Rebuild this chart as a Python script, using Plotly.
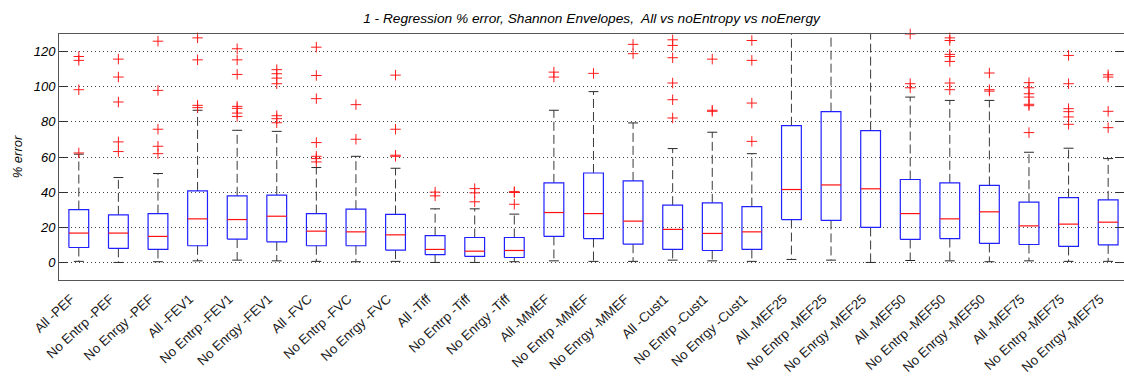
import plotly.graph_objects as go

# Category labels (one box per feature set / target)
labels = [
    "All -PEF", "No Entrp -PEF", "No Enrgy -PEF",
    "All -FEV1", "No Entrp -FEV1", "No Enrgy -FEV1",
    "All -FVC", "No Entrp -FVC", "No Enrgy -FVC",
    "All -Tiff", "No Entrp -Tiff", "No Enrgy -Tiff",
    "All -MMEF", "No Entrp -MMEF", "No Enrgy -MMEF",
    "All -Cust1", "No Entrp -Cust1", "No Enrgy -Cust1",
    "All -MEF25", "No Entrp -MEF25", "No Enrgy -MEF25",
    "All -MEF50", "No Entrp -MEF50", "No Enrgy -MEF50",
    "All -MEF75", "No Entrp -MEF75", "No Enrgy -MEF75",
]

# Box statistics (% error)
lower_whisker = [0.6, 0.0, 0.4, 0.9, 1.3, 0.9, 0.6, 0.4, 0.6,
                 0.0, 0.0, 0.4, 0.9, 0.6, 0.6, 1.3, 0.9, 0.6,
                 1.7, 1.3, 0.0, 1.1, 0.9, 0.4, 0.9, 0.6, 0.6]
q1 = [8.5, 8.0, 7.4, 9.5, 13.3, 11.7, 9.5, 9.5, 7.0,
      4.4, 3.4, 2.8, 14.8, 13.6, 10.4, 7.4, 6.8, 7.4,
      24.4, 23.9, 19.9, 13.1, 13.6, 10.8, 10.2, 9.1, 10.0]
median = [16.7, 16.7, 14.8, 24.8, 24.4, 26.3, 17.8, 17.4, 15.7,
          7.4, 6.4, 6.8, 28.4, 27.8, 23.5, 18.8, 16.5, 17.4,
          41.5, 44.1, 41.9, 27.8, 24.8, 28.8, 20.8, 21.8, 22.9]
q3 = [30.1, 27.1, 27.8, 40.7, 37.9, 38.3, 27.8, 30.3, 27.3,
      15.2, 14.2, 14.2, 45.3, 50.9, 46.4, 32.6, 33.9, 31.8,
      77.8, 85.8, 75.0, 47.2, 45.3, 43.8, 34.3, 36.9, 35.6]
upper_whisker = [61.6, 48.3, 50.6, 86.6, 75.2, 74.6, 54.0, 60.4, 53.6,
                 30.5, 30.5, 27.5, 86.6, 97.2, 79.4, 64.8, 74.1, 61.9,
                 160.0, 165.0, 158.0, 94.1, 92.2, 92.2, 62.7, 65.0, 59.1]

# Outliers per box
outliers = [
    [117.2, 115.0, 98.3, 62.3],
    [115.7, 105.5, 91.3, 68.6, 63.1],
    [125.9, 97.9, 75.8, 66.1, 61.9],
    [127.8, 115.3, 89.4, 88.1],
    [121.6, 115.3, 107.0, 88.8, 87.7, 85.0, 83.1],
    [109.7, 107.4, 104.9, 101.7, 83.5, 81.8, 79.5],
    [122.5, 106.4, 93.2, 68.2, 60.4, 59.1, 57.2],
    [89.8, 70.1],
    [106.6, 75.8, 61.0, 60.4],
    [40.0, 37.9],
    [42.0, 39.6, 34.5],
    [40.3, 39.8, 33.1],
    [108.3, 105.5],
    [107.6],
    [124.1, 118.8],
    [126.7, 123.5, 116.5, 102.1, 92.6, 82.2],
    [115.7, 86.6, 86.0],
    [126.3, 115.0, 90.7, 68.9],
    [],
    [],
    [],
    [130.0, 101.7, 99.4],
    [127.8, 126.3, 118.4, 117.2, 114.4, 102.1, 98.3],
    [107.8, 98.3, 97.5],
    [102.3, 99.4, 96.0, 94.1, 90.0, 89.2, 73.9],
    [117.8, 101.7, 87.5, 85.8, 82.8, 78.6],
    [106.8, 105.5, 86.0, 76.7],
]

y_ticks = [0, 20, 40, 60, 80, 100, 120]

BOX_HALF = 0.25
CAP_HALF = 0.125
FONT = "Liberation Sans, Arial, sans-serif"

positions = list(range(1, len(labels) + 1))

box_x, box_y = [], []
med_x, med_y = [], []
wh_x, wh_y = [], []
cap_x, cap_y = [], []
out_x, out_y = [], []

for i, p in enumerate(positions):
    # box outline
    box_x += [p - BOX_HALF, p + BOX_HALF, p + BOX_HALF, p - BOX_HALF, p - BOX_HALF, None]
    box_y += [q1[i], q1[i], q3[i], q3[i], q1[i], None]
    # median
    med_x += [p - BOX_HALF, p + BOX_HALF, None]
    med_y += [median[i], median[i], None]
    # whiskers
    wh_x += [p, p, None, p, p, None]
    wh_y += [q3[i], upper_whisker[i], None, q1[i], lower_whisker[i], None]
    # whisker caps
    cap_x += [p - CAP_HALF, p + CAP_HALF, None, p - CAP_HALF, p + CAP_HALF, None]
    cap_y += [upper_whisker[i], upper_whisker[i], None, lower_whisker[i], lower_whisker[i], None]
    # outliers
    for v in outliers[i]:
        out_x.append(p)
        out_y.append(v)

fig = go.Figure()
fig.add_trace(go.Scatter(x=wh_x, y=wh_y, mode="lines",
                         line=dict(color="#3a3a3a", width=1, dash="9px,4px"),
                         hoverinfo="skip", showlegend=False))
fig.add_trace(go.Scatter(x=cap_x, y=cap_y, mode="lines",
                         line=dict(color="#2a2a2a", width=1),
                         hoverinfo="skip", showlegend=False))
fig.add_trace(go.Scatter(x=box_x, y=box_y, mode="lines",
                         line=dict(color="#2020ff", width=1.2),
                         hoverinfo="skip", showlegend=False))
fig.add_trace(go.Scatter(x=med_x, y=med_y, mode="lines",
                         line=dict(color="#ff1010", width=1.2),
                         hoverinfo="skip", showlegend=False))
fig.add_trace(go.Scatter(x=out_x, y=out_y, mode="markers",
                         marker=dict(symbol="cross-thin-open", size=7.5,
                                     color="#ff1a1a",
                                     line=dict(color="#ff1a1a", width=1)),
                         cliponaxis=False, showlegend=False))

fig.update_layout(
    width=1124, height=385,
    margin=dict(l=59, r=0, t=34, b=105),
    paper_bgcolor="white", plot_bgcolor="white",
    font=dict(family=FONT, size=13, color="black"),
    title=dict(
        text="<i>1 - Regression % error, Shannon Envelopes,  All vs noEntropy vs noEnergy</i>",
        x=0.5, xref="paper", xanchor="center",
        y=1 - 18 / 385, yref="container", yanchor="middle",
        font=dict(family=FONT, size=13.7, color="black"),
    ),
    showlegend=False,
)

fig.update_xaxes(
    range=[0.5, 27.4],
    tickmode="array", tickvals=positions, ticktext=labels,
    tickangle=-43, tickfont=dict(family=FONT, size=13.3, color="#1a1a1a"),
    ticklabelshift=-8, ticklabelstandoff=5,
    ticks="", showgrid=False, zeroline=False,
    showline=True, mirror=True, linecolor="#555555", linewidth=1,
)

fig.update_yaxes(
    range=[-10, 130],
    tickmode="array", tickvals=y_ticks,
    ticktext=[f"<i>{v}</i>" for v in y_ticks],
    ticks="inside", ticklen=9, tickcolor="#333333",
    showgrid=True, gridcolor="#444444", gridwidth=1, griddash="1px,3px",
    zeroline=False,
    showline=True, mirror="ticks", linecolor="#555555", linewidth=1,
    title=dict(text="<i>% error</i>", standoff=8,
               font=dict(family=FONT, size=13, color="black")),
)

fig.write_html("out.html")
